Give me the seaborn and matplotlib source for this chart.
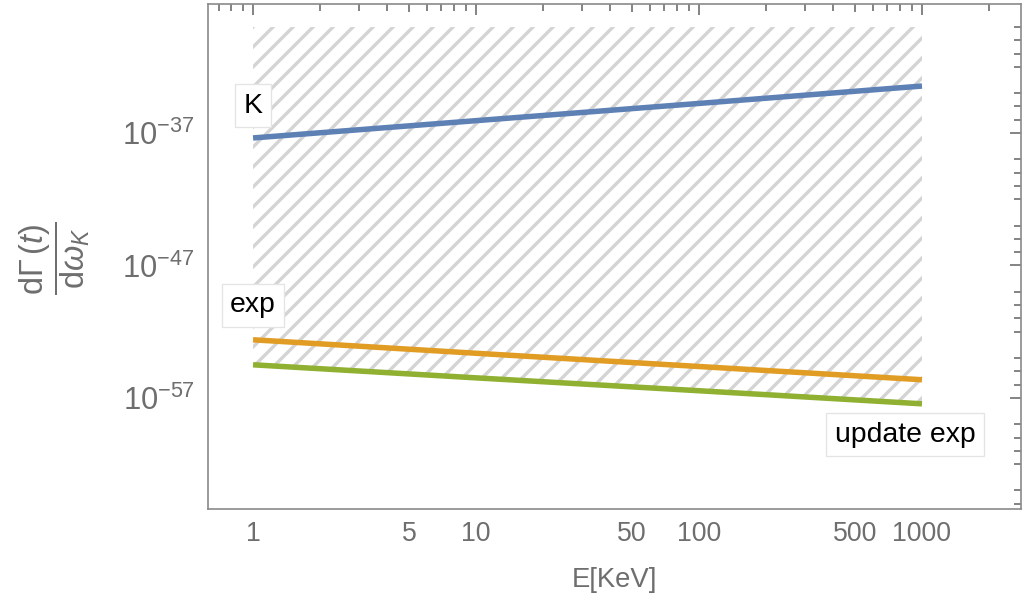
import matplotlib
matplotlib.use("Agg")
import matplotlib.pyplot as plt
import numpy as np
import pandas as pd
import seaborn as sns
from matplotlib.ticker import FixedLocator, FixedFormatter, NullFormatter, LogFormatterMathtext

# ---- data ----
energy = [1, 10, 100, 1000]
rate_K = [4.2e-38, 8.5e-37, 1.7e-35, 3.5e-34]
rate_exp = [2.4e-53, 2.3e-54, 2.3e-55, 2.3e-56]
rate_update = [3.1e-55, 3.2e-56, 3.4e-57, 3.5e-58]
excluded_top = 1e-29
series_names = ["K", "exp", "update exp"]
series_colors = ["#5E81B5", "#E19C24", "#8FB031"]

x_tick_values = [1, 5, 10, 50, 100, 500, 1000]
x_tick_labels = ["1", "5", "10", "50", "100", "500", "1000"]
y_tick_exponents = [-37, -47, -57]

label_text = ["K", "exp", "update exp"]
label_x = [1, 1, 840]
label_y = [1.1e-35, 1.0e-50, 1.6e-60]

# ---- style ----
sns.set_theme(style="white")
plt.rcParams["font.family"] = ["Liberation Sans", "DejaVu Sans"]
plt.rcParams["mathtext.fontset"] = "custom"
plt.rcParams["mathtext.rm"] = "Liberation Sans"
plt.rcParams["mathtext.it"] = "Liberation Sans:italic"
plt.rcParams["mathtext.bf"] = "Liberation Sans:bold"
plt.rcParams["mathtext.sf"] = "Liberation Sans"
plt.rcParams["hatch.linewidth"] = 2.0

gray = "#6e6e6e"
dpi = 120
fig = plt.figure(figsize=(1022 / dpi, 605 / dpi), dpi=dpi)
ax = fig.add_axes([208 / 1022, (605 - 509) / 605, (1021 - 208) / 1022, (509 - 4) / 605])

df = pd.DataFrame({
    "E": energy * 3,
    "rate": rate_K + rate_exp + rate_update,
    "series": [series_names[0]] * 4 + [series_names[1]] * 4 + [series_names[2]] * 4,
})

ax.fill_between(energy, rate_update, excluded_top, facecolor="none",
                edgecolor="#d4d4d4", hatch="//", linewidth=0, zorder=1)

sns.lineplot(data=df, x="E", y="rate", hue="series", hue_order=series_names,
             palette=series_colors, linewidth=3.3, legend=False, ax=ax, zorder=3)
for ln in ax.lines:
    ln.set_solid_capstyle("butt")

ax.set_xscale("log")
ax.set_yscale("log")
ax.set_xlim(0.628, 2780)
ax.set_ylim(10 ** -65.4, 10 ** -27.26)

# x ticks
ax.xaxis.set_major_locator(FixedLocator(x_tick_values))
ax.xaxis.set_major_formatter(FixedFormatter(x_tick_labels))
x_minor = [m * 10.0 ** k for k in range(-1, 4) for m in range(1, 10)
           if m * 10.0 ** k not in x_tick_values]
ax.xaxis.set_minor_locator(FixedLocator(x_minor))
ax.xaxis.set_minor_formatter(NullFormatter())

# y ticks
ax.yaxis.set_major_locator(FixedLocator([10.0 ** e for e in y_tick_exponents]))
ax.yaxis.set_major_formatter(LogFormatterMathtext())
y_minor = [10.0 ** e for e in range(-66, -26) if e % 5 != 2 and e not in y_tick_exponents]
ax.yaxis.set_minor_locator(FixedLocator(y_minor))
ax.yaxis.set_minor_formatter(NullFormatter())

ax.tick_params(which="both", direction="in", top=True, right=True,
               labeltop=False, labelright=False, color=gray, width=1.0,
               labelcolor=gray)
ax.tick_params(axis="x", labelsize=16)
ax.tick_params(axis="y", labelsize=18.5)
ax.tick_params(which="major", length=6.5)
ax.tick_params(which="minor", length=4)
ax.tick_params(axis="x", which="major", pad=7)
ax.tick_params(axis="y", which="major", pad=8)
for v, t in zip(ax.get_xticks(), ax.xaxis.get_major_ticks()):
    if v in (5, 50, 500):
        t.tick1line.set_markersize(5)
        t.tick2line.set_markersize(5)

for s in ax.spines.values():
    s.set_color("#8a8a8a")
    s.set_linewidth(1.0)

ax.set_xlabel("E[KeV]", fontsize=16.5, color=gray)
ax.xaxis.set_label_coords(0.5, (509 - 580) / 505)
ax.xaxis.label.set_verticalalignment("center")
ax.set_ylabel(r"$\dfrac{\mathrm{d}\Gamma\,(t)}{\mathrm{d}\omega_K}$", fontsize=19.5, color=gray)
ax.yaxis.set_label_coords((55 - 208) / 813, (509 - 258) / 505)
ax.yaxis.label.set_verticalalignment("center")

for txt, lx, ly in zip(label_text, label_x, label_y):
    ax.text(lx, ly, txt, fontsize=17, color="black", ha="center", va="center", zorder=5,
            bbox=dict(boxstyle="square,pad=0.3", facecolor="white", edgecolor="#e4e4e4", linewidth=0.8))

fig.savefig("out.png", dpi=dpi)
